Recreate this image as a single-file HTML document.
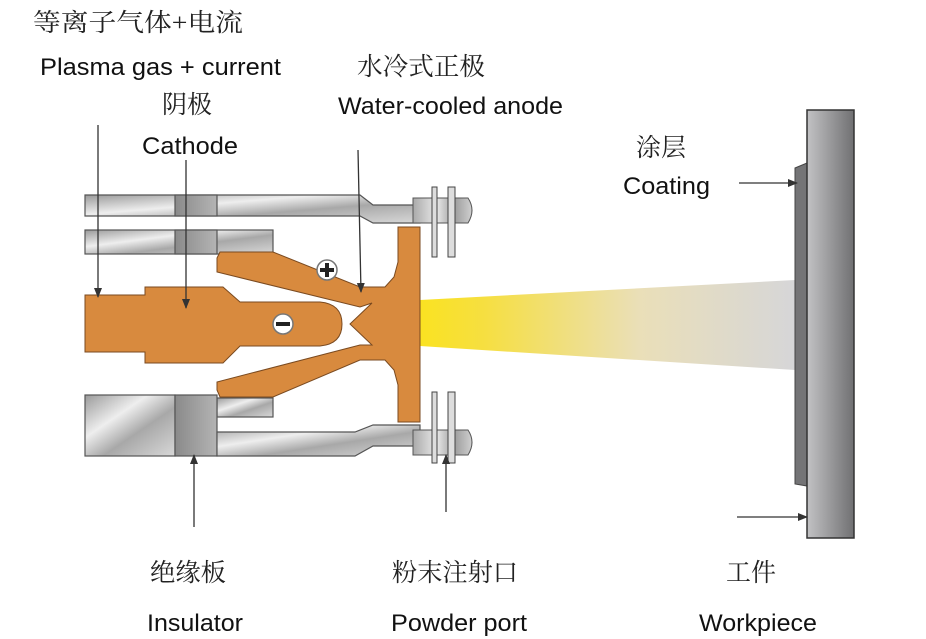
<!DOCTYPE html>
<html><head><meta charset="utf-8"><style>
html,body{margin:0;padding:0;background:#fff;}
svg{display:block}
.en{font-family:"Liberation Sans",sans-serif;font-size:24px;fill:#111}
.cn{font-family:"Liberation Serif","Noto Serif CJK SC",serif;font-size:25px;fill:#222}
</style></head><body>
<svg width="926" height="639" viewBox="0 0 926 639" xmlns="http://www.w3.org/2000/svg">
<defs>
<linearGradient id="metal" x1="0" y1="0" x2="1" y2="1">
<stop offset="0" stop-color="#9a9a9a"/><stop offset="0.35" stop-color="#eeeeee"/><stop offset="0.6" stop-color="#a8a8a8"/><stop offset="1" stop-color="#d8d8d8"/></linearGradient>
<linearGradient id="metal2" x1="0" y1="0" x2="1" y2="0">
<stop offset="0" stop-color="#aaa"/><stop offset="0.4" stop-color="#e8e8e8"/><stop offset="0.7" stop-color="#9c9c9c"/><stop offset="1" stop-color="#cfcfcf"/></linearGradient>
<linearGradient id="dark" x1="0" y1="0" x2="1" y2="0">
<stop offset="0" stop-color="#8a8a8a"/><stop offset="1" stop-color="#b4b4b4"/></linearGradient>
<linearGradient id="work" x1="0" y1="0" x2="1" y2="0">
<stop offset="0" stop-color="#c2c2c4"/><stop offset="1" stop-color="#707072"/></linearGradient>
<linearGradient id="plume" x1="0" y1="0" x2="1" y2="0">
<stop offset="0" stop-color="#ffe600"/><stop offset="0.3" stop-color="#f6df40"/><stop offset="0.65" stop-color="#eadfb8"/><stop offset="1" stop-color="#d6d6d8"/></linearGradient>
<marker id="ah" markerWidth="10" markerHeight="10" refX="9" refY="5" orient="auto" markerUnits="userSpaceOnUse">
<path d="M0,1 L10,5 L0,9 Z" fill="#333"/></marker>
</defs>

<path d="M350,324 L372,303 L420,300 L795,280 L795,370 L420,346 L372,345 Z" fill="url(#plume)"/>

<path d="M85,195 L360,195 L373,205 L413,205 L420,212 L420,223 L373,223 L360,216 L85,216 Z" fill="url(#metal)" stroke="#555" stroke-width="1.2"/>
<rect x="175" y="195" width="42" height="21" fill="url(#dark)" stroke="#555" stroke-width="1.2"/>
<rect x="85" y="230" width="188" height="24" fill="url(#metal)" stroke="#555" stroke-width="1.2"/>
<rect x="175" y="230" width="42" height="24" fill="url(#dark)" stroke="#555" stroke-width="1.2"/>
<rect x="217" y="398" width="56" height="19" fill="url(#metal)" stroke="#555" stroke-width="1.2"/>
<rect x="85" y="395" width="90" height="61" fill="url(#metal)" stroke="#555" stroke-width="1.2"/>
<rect x="175" y="395" width="42" height="61" fill="url(#dark)" stroke="#555" stroke-width="1.2"/>
<path d="M217,432 L355,432 L373,425 L420,425 L420,440 L413,446 L373,446 L355,456 L217,456 Z" fill="url(#metal)" stroke="#555" stroke-width="1.2"/>

<path d="M220,252 L273,252 L360,287 L385,287 L394,277 L398,262 L398,227 L420,227 L420,422 L398,422 L398,385 L394,370 L385,360 L360,360 L273,397 L220,397 L217,390 L217,382 L360,345 L372,345 L350,324 L372,303 L360,307 L217,272 L217,258 Z" fill="#d88a3e" stroke="#7a4a20" stroke-width="1"/>

<path d="M85,295 L145,295 L145,287 L223,287 L240,302 L320,302 Q342,304 342,324 Q342,344 320,346 L240,346 L223,363 L145,363 L145,352 L85,352 Z" fill="#d88a3e" stroke="#7a4a20" stroke-width="1"/>
<circle cx="283" cy="324" r="10" fill="#fff" stroke="#777" stroke-width="1.5"/>
<rect x="276" y="322" width="14" height="4" fill="#222"/>
<circle cx="327" cy="270" r="10" fill="#fff" stroke="#777" stroke-width="1.5"/>
<rect x="320" y="268" width="14" height="4" fill="#222"/><rect x="325" y="263" width="4" height="14" fill="#222"/>

<path d="M413,198 L468,198 Q476,210 468,223 L413,223 Z" fill="url(#metal2)" stroke="#555"/>
<path d="M413,430 L468,430 Q476,442 468,455 L413,455 Z" fill="url(#metal2)" stroke="#555"/>
<rect x="432" y="187" width="5" height="70" fill="#ddd" stroke="#444"/>
<rect x="448" y="187" width="7" height="70" fill="#ddd" stroke="#444"/>
<rect x="432" y="392" width="5" height="71" fill="#ddd" stroke="#444"/>
<rect x="448" y="392" width="7" height="71" fill="#ddd" stroke="#444"/>

<path d="M795,168 L807,163 L807,486 L795,484 Z" fill="#747476" stroke="#444"/>
<rect x="807" y="110" width="47" height="428" fill="url(#work)" stroke="#333" stroke-width="1.5"/>

<g stroke="#333" stroke-width="1.3" fill="none" marker-end="url(#ah)">
<line x1="98" y1="125" x2="98" y2="297"/>
<line x1="186" y1="160" x2="186" y2="308"/>
<line x1="358" y1="150" x2="361" y2="292"/>
<line x1="194" y1="527" x2="194" y2="455"/>
<line x1="446" y1="512" x2="446" y2="455"/>
<line x1="739" y1="183" x2="797" y2="183"/>
<line x1="737" y1="517" x2="807" y2="517"/>
</g>

<text class="cn" x="33" y="31" textLength="210" lengthAdjust="spacingAndGlyphs">等离子气体+电流</text>
<text class="en" x="40" y="75" textLength="241" lengthAdjust="spacingAndGlyphs">Plasma gas + current</text>
<text class="cn" x="162" y="113" textLength="50" lengthAdjust="spacingAndGlyphs">阴极</text>
<text class="en" x="142" y="154" textLength="96" lengthAdjust="spacingAndGlyphs">Cathode</text>
<text class="cn" x="357" y="75" textLength="128" lengthAdjust="spacingAndGlyphs">水冷式正极</text>
<text class="en" x="338" y="114" textLength="225" lengthAdjust="spacingAndGlyphs">Water-cooled anode</text>
<text class="cn" x="636" y="156" textLength="50" lengthAdjust="spacingAndGlyphs">涂层</text>
<text class="en" x="623" y="194" textLength="87" lengthAdjust="spacingAndGlyphs">Coating</text>
<text class="cn" x="150" y="581" textLength="76" lengthAdjust="spacingAndGlyphs">绝缘板</text>
<text class="en" x="147" y="631" textLength="96" lengthAdjust="spacingAndGlyphs">Insulator</text>
<text class="cn" x="392" y="581" textLength="126" lengthAdjust="spacingAndGlyphs">粉末注射口</text>
<text class="en" x="391" y="631" textLength="136" lengthAdjust="spacingAndGlyphs">Powder port</text>
<text class="cn" x="726" y="581" textLength="50" lengthAdjust="spacingAndGlyphs">工件</text>
<text class="en" x="699" y="631" textLength="118" lengthAdjust="spacingAndGlyphs">Workpiece</text>
</svg>
</body></html>
